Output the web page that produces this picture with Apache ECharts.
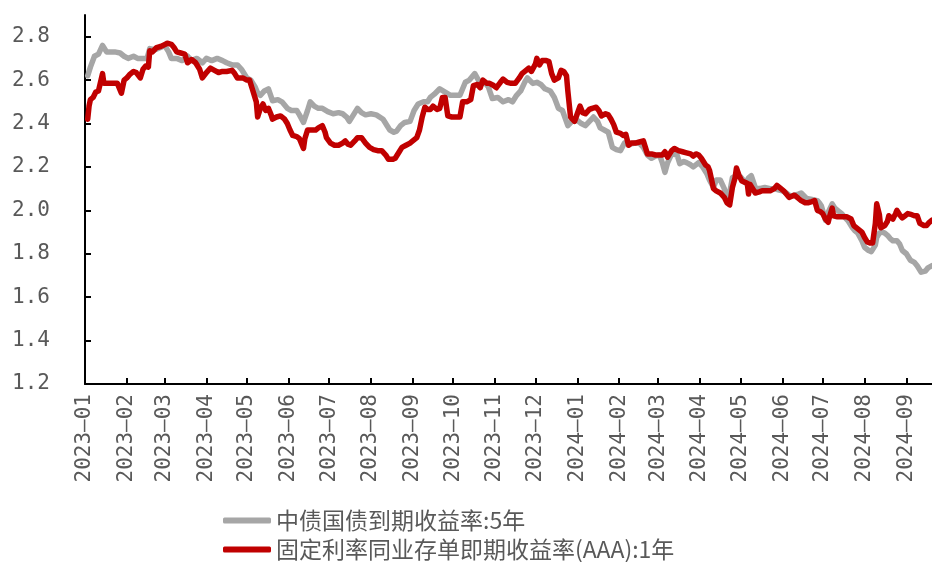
<!DOCTYPE html>
<html>
<head>
<meta charset="utf-8">
<title>国债与同业存单收益率</title>
<script src="https://cdn.jsdelivr.net/npm/echarts@6/dist/echarts.min.js"></script>
<style>
  html, body { margin: 0; padding: 0; background: #fff; }
  #chart { width: 932px; height: 562px; }
</style>
</head>
<body>
<div id="chart"></div>
<script>
// 中债国债到期收益率:5年
const grayName = '中债国债到期收益率:5年';
const grayDates = [
  '2023-01-03','2023-01-05','2023-01-08','2023-01-11','2023-01-14','2023-01-17','2023-01-20','2023-01-23','2023-01-27','2023-01-30',
  '2023-02-02','2023-02-06','2023-02-09','2023-02-13','2023-02-16','2023-02-18','2023-02-22','2023-02-26',
  '2023-03-01','2023-03-04','2023-03-06','2023-03-10','2023-03-14','2023-03-18','2023-03-21','2023-03-25','2023-03-29',
  '2023-04-01','2023-04-05','2023-04-09','2023-04-13','2023-04-16','2023-04-20','2023-04-24','2023-04-27',
  '2023-05-01','2023-05-04','2023-05-07','2023-05-09','2023-05-11','2023-05-14','2023-05-17','2023-05-20','2023-05-24','2023-05-27','2023-05-31',
  '2023-06-03','2023-06-07','2023-06-09','2023-06-12','2023-06-15','2023-06-17','2023-06-20','2023-06-23','2023-06-26','2023-06-30',
  '2023-07-04','2023-07-08','2023-07-11','2023-07-14','2023-07-16','2023-07-19','2023-07-22','2023-07-25','2023-07-28',
  '2023-08-01','2023-08-05','2023-08-10','2023-08-13','2023-08-15','2023-08-18','2023-08-20','2023-08-23','2023-08-26','2023-08-30',
  '2023-09-02','2023-09-05','2023-09-09','2023-09-12','2023-09-14','2023-09-17','2023-09-21','2023-09-25','2023-09-29',
  '2023-10-02','2023-10-06','2023-10-10','2023-10-13','2023-10-17','2023-10-21','2023-10-25','2023-10-27','2023-10-30',
  '2023-11-03','2023-11-07','2023-11-11','2023-11-14','2023-11-17','2023-11-20','2023-11-23','2023-11-25','2023-11-29',
  '2023-12-02','2023-12-05','2023-12-08','2023-12-12','2023-12-15','2023-12-18','2023-12-21','2023-12-25','2023-12-28',
  '2024-01-01','2024-01-04','2024-01-07','2024-01-10','2024-01-13','2024-01-16','2024-01-18','2024-01-21','2024-01-24','2024-01-27','2024-01-30',
  '2024-02-02','2024-02-05','2024-02-09','2024-02-13','2024-02-16','2024-02-19','2024-02-22','2024-02-25','2024-02-28',
  '2024-03-02','2024-03-04','2024-03-06','2024-03-08','2024-03-11','2024-03-15','2024-03-17','2024-03-20','2024-03-22','2024-03-25','2024-03-27','2024-03-31',
  '2024-04-03','2024-04-06','2024-04-08','2024-04-11','2024-04-13','2024-04-16','2024-04-19','2024-04-21','2024-04-23','2024-04-25','2024-04-28',
  '2024-05-01','2024-05-03','2024-05-05','2024-05-07','2024-05-09','2024-05-12','2024-05-15','2024-05-19','2024-05-23','2024-05-26','2024-05-29',
  '2024-06-01','2024-06-04','2024-06-07','2024-06-10','2024-06-13','2024-06-15','2024-06-19','2024-06-23','2024-06-27','2024-06-29','2024-06-30',
  '2024-07-03','2024-07-05','2024-07-08','2024-07-10','2024-07-12','2024-07-15','2024-07-17','2024-07-20','2024-07-23','2024-07-25','2024-07-27','2024-07-30',
  '2024-08-01','2024-08-04','2024-08-06','2024-08-09','2024-08-10','2024-08-12','2024-08-14','2024-08-16','2024-08-18','2024-08-20','2024-08-22','2024-08-25','2024-08-27','2024-08-29',
  '2024-09-01','2024-09-04','2024-09-07','2024-09-09','2024-09-12','2024-09-15','2024-09-17','2024-09-20'
];
const grayValues = [
  2.62,2.66,2.71,2.72,2.76,2.73,2.73,2.73,2.725,2.71,
  2.70,2.71,2.70,2.70,2.70,2.745,2.74,2.75,
  2.76,2.73,2.70,2.70,2.69,2.71,2.69,2.70,2.68,
  2.70,2.69,2.70,2.69,2.68,2.67,2.67,2.65,
  2.61,2.60,2.57,2.54,2.53,2.55,2.56,2.505,2.51,2.50,2.47,
  2.46,2.46,2.44,2.405,2.46,2.50,2.48,2.47,2.47,2.455,
  2.445,2.45,2.445,2.43,2.41,2.44,2.47,2.45,2.44,
  2.445,2.44,2.42,2.39,2.37,2.36,2.365,2.39,2.405,2.41,
  2.46,2.49,2.50,2.50,2.52,2.535,2.56,2.545,2.53,
  2.53,2.53,2.59,2.60,2.63,2.585,2.585,2.57,2.515,
  2.52,2.50,2.51,2.50,2.53,2.55,2.59,2.61,2.585,
  2.59,2.58,2.56,2.55,2.52,2.47,2.46,2.39,2.41,
  2.415,2.40,2.39,2.41,2.43,2.41,2.38,2.37,2.36,2.29,2.28,
  2.275,2.31,2.305,2.31,2.31,2.29,2.255,2.24,2.25,
  2.255,2.22,2.175,2.22,2.26,2.255,2.215,2.225,2.22,2.21,2.20,2.22,
  2.20,2.17,2.14,2.105,2.14,2.14,2.10,2.06,2.08,2.15,2.16,
  2.155,2.14,2.125,2.15,2.16,2.105,2.10,2.105,2.10,2.10,2.095,
  2.09,2.08,2.065,2.07,2.075,2.08,2.055,2.05,2.045,2.03,2.02,
  1.955,1.99,2.03,2.01,2.00,1.985,1.97,1.95,1.92,1.905,1.895,1.86,
  1.83,1.815,1.81,1.84,1.875,1.895,1.90,1.895,1.885,1.87,1.86,1.86,1.845,1.815,
  1.80,1.77,1.76,1.745,1.715,1.72,1.735,1.745
];

// 固定利率同业存单即期收益率(AAA):1年
const redName = '固定利率同业存单即期收益率(AAA):1年';
const redDates = [
  '2023-01-03','2023-01-04','2023-01-05','2023-01-07','2023-01-09','2023-01-11','2023-01-14','2023-01-15','2023-01-18','2023-01-22','2023-01-25','2023-01-28','2023-01-30',
  '2023-02-01','2023-02-03','2023-02-06','2023-02-08','2023-02-11','2023-02-13','2023-02-15','2023-02-17','2023-02-18','2023-02-20','2023-02-23','2023-02-26','2023-02-28',
  '2023-03-03','2023-03-06','2023-03-08','2023-03-10','2023-03-13','2023-03-16','2023-03-18','2023-03-21','2023-03-24','2023-03-27','2023-03-29',
  '2023-04-01','2023-04-04','2023-04-07','2023-04-10','2023-04-13','2023-04-16','2023-04-20','2023-04-22','2023-04-24','2023-04-28',
  '2023-05-01','2023-05-03','2023-05-05','2023-05-08','2023-05-09','2023-05-11','2023-05-13','2023-05-15','2023-05-17','2023-05-19','2023-05-20','2023-05-23','2023-05-26','2023-05-29','2023-05-31',
  '2023-06-02','2023-06-04','2023-06-07','2023-06-09','2023-06-12','2023-06-13','2023-06-15','2023-06-18','2023-06-21','2023-06-23','2023-06-26','2023-06-28','2023-06-29',
  '2023-07-02','2023-07-05','2023-07-08','2023-07-11','2023-07-13','2023-07-15','2023-07-17','2023-07-20','2023-07-22','2023-07-25','2023-07-28','2023-07-31',
  '2023-08-03','2023-08-06','2023-08-09','2023-08-12','2023-08-14','2023-08-17','2023-08-19','2023-08-22','2023-08-24','2023-08-27','2023-08-30',
  '2023-09-01','2023-09-04','2023-09-06','2023-09-08','2023-09-10','2023-09-12','2023-09-14','2023-09-16','2023-09-19','2023-09-21','2023-09-23','2023-09-25','2023-09-27','2023-09-30',
  '2023-10-03','2023-10-06','2023-10-08','2023-10-11','2023-10-14','2023-10-16','2023-10-19','2023-10-21','2023-10-23','2023-10-26','2023-10-28','2023-10-31',
  '2023-11-02','2023-11-05','2023-11-07','2023-11-10','2023-11-13','2023-11-16','2023-11-19','2023-11-21','2023-11-24','2023-11-26','2023-11-28',
  '2023-12-01','2023-12-02','2023-12-04','2023-12-06','2023-12-09','2023-12-11','2023-12-13','2023-12-15','2023-12-18','2023-12-20','2023-12-22','2023-12-24','2023-12-25','2023-12-27','2023-12-30',
  '2024-01-01','2024-01-03','2024-01-05','2024-01-07','2024-01-10','2024-01-12','2024-01-15','2024-01-17','2024-01-19','2024-01-22','2024-01-24','2024-01-26','2024-01-28','2024-01-30',
  '2024-02-02','2024-02-04','2024-02-06','2024-02-08','2024-02-10','2024-02-13','2024-02-16','2024-02-19','2024-02-20','2024-02-22','2024-02-25','2024-02-28',
  '2024-03-02','2024-03-04','2024-03-06','2024-03-08','2024-03-11','2024-03-13','2024-03-16','2024-03-19','2024-03-22','2024-03-25','2024-03-27','2024-03-29','2024-03-31',
  '2024-04-02','2024-04-05','2024-04-07','2024-04-08','2024-04-11','2024-04-13','2024-04-16','2024-04-19','2024-04-21','2024-04-23','2024-04-25','2024-04-27','2024-04-28','2024-04-30',
  '2024-05-02','2024-05-04','2024-05-06','2024-05-07','2024-05-08','2024-05-09','2024-05-12','2024-05-15','2024-05-17','2024-05-20','2024-05-23','2024-05-26','2024-05-28','2024-05-31',
  '2024-06-02','2024-06-04','2024-06-06','2024-06-08','2024-06-10','2024-06-13','2024-06-15','2024-06-18','2024-06-20','2024-06-23','2024-06-25','2024-06-27','2024-06-29',
  '2024-07-01','2024-07-03','2024-07-05','2024-07-06','2024-07-08','2024-07-09','2024-07-12','2024-07-14','2024-07-17','2024-07-19','2024-07-22','2024-07-24','2024-07-27','2024-07-30',
  '2024-08-01','2024-08-03','2024-08-05','2024-08-07','2024-08-09','2024-08-10','2024-08-12','2024-08-13','2024-08-16','2024-08-18','2024-08-19','2024-08-22','2024-08-24','2024-08-25','2024-08-27','2024-08-29','2024-08-31',
  '2024-09-02','2024-09-05','2024-09-07','2024-09-09','2024-09-11','2024-09-14','2024-09-16','2024-09-18','2024-09-20'
];
const redValues = [
  2.42,2.48,2.51,2.52,2.545,2.55,2.63,2.585,2.585,2.585,2.585,2.54,2.60,
  2.61,2.625,2.64,2.635,2.61,2.65,2.665,2.66,2.735,2.73,2.75,2.755,2.76,
  2.77,2.765,2.75,2.73,2.725,2.72,2.68,2.695,2.68,2.65,2.61,
  2.635,2.655,2.645,2.635,2.64,2.64,2.645,2.63,2.61,2.61,
  2.60,2.60,2.56,2.50,2.43,2.47,2.49,2.46,2.47,2.44,2.42,2.43,2.435,2.42,2.40,
  2.37,2.345,2.34,2.33,2.285,2.33,2.37,2.37,2.37,2.38,2.39,2.36,2.335,
  2.31,2.30,2.30,2.31,2.32,2.305,2.30,2.32,2.335,2.335,2.31,2.29,
  2.28,2.275,2.275,2.255,2.235,2.235,2.24,2.27,2.29,2.30,2.31,
  2.32,2.335,2.37,2.43,2.475,2.465,2.465,2.48,2.465,2.47,2.52,2.52,2.435,2.43,
  2.43,2.43,2.50,2.50,2.51,2.575,2.58,2.565,2.60,2.585,2.585,2.575,
  2.565,2.59,2.605,2.59,2.585,2.585,2.61,2.63,2.645,2.655,2.64,
  2.675,2.70,2.67,2.69,2.69,2.685,2.63,2.60,2.61,2.645,2.64,2.62,2.55,2.43,2.41,
  2.445,2.48,2.45,2.445,2.465,2.47,2.475,2.46,2.435,2.445,2.44,2.42,2.395,2.36,
  2.355,2.345,2.35,2.30,2.31,2.31,2.315,2.32,2.32,2.26,2.26,2.255,
  2.255,2.255,2.27,2.245,2.275,2.285,2.275,2.27,2.265,2.26,2.25,2.26,2.255,
  2.24,2.21,2.20,2.185,2.10,2.09,2.08,2.06,2.035,2.025,2.105,2.15,2.195,2.16,
  2.135,2.13,2.125,2.075,2.12,2.11,2.08,2.085,2.09,2.09,2.09,2.10,2.115,2.10,
  2.09,2.075,2.06,2.065,2.07,2.055,2.045,2.035,2.035,2.04,2.045,2.00,1.995,
  1.985,1.96,1.945,1.97,2.01,1.975,1.97,1.97,1.97,1.97,1.96,1.93,1.915,1.90,
  1.875,1.855,1.85,1.85,1.94,2.03,1.98,1.92,1.93,1.95,1.975,1.96,1.985,2.00,1.98,1.965,1.975,
  1.985,1.98,1.975,1.975,1.94,1.93,1.93,1.945,1.955
];

// Axis ticks
const monthLabels = [
  '2023-01','2023-02','2023-03','2023-04','2023-05','2023-06','2023-07','2023-08','2023-09','2023-10','2023-11','2023-12',
  '2024-01','2024-02','2024-03','2024-04','2024-05','2024-06','2024-07','2024-08','2024-09'
];
const yTicks = [1.2, 1.4, 1.6, 1.8, 2.0, 2.2, 2.4, 2.6, 2.8];
const xStart = '2023-01-01';
const xEnd = '2024-09-20';

function toTime(s) {
  const p = s.split('-').map(Number);
  return new Date(p[0], p[1] - 1, p[2] || 1).getTime();
}
const monthTicks = monthLabels.map(toTime);
const pair = (dates, vals) => dates.map((d, i) => [toTime(d), vals[i]]);

const labelColor = '#595959';
const monoFont = '"DejaVu Sans Mono", "Liberation Mono", monospace';
const grayColor = '#A6A6A6';
const redColor = '#C00000';

// One legend row per series, stacked under the axis labels
function legendRow(name, top) {
  return {
    orient: 'horizontal',
    left: 218,
    top: top,
    itemWidth: 48,
    itemHeight: 6,
    icon: 'roundRect',
    data: [name],
    textStyle: { fontSize: 23, color: labelColor, fontFamily: '"Noto Sans CJK SC", sans-serif' }
  };
}

const chart = echarts.init(document.getElementById('chart'), null, { renderer: 'canvas' });
chart.setOption({
  animation: false,
  backgroundColor: '#ffffff',
  grid: { left: 85, right: 0, top: 15, bottom: 178, containLabel: false },
  legend: [legendRow(grayName, 504), legendRow(redName, 533)],
  // Timestamps on a value axis so that ticks sit exactly on month starts
  xAxis: {
    type: 'value',
    min: toTime(xStart),
    max: toTime(xEnd),
    axisLine: { show: true, lineStyle: { color: '#000', width: 2 } },
    axisTick: { show: true, inside: true, length: 6, customValues: monthTicks, lineStyle: { color: '#000', width: 2 } },
    axisLabel: {
      customValues: monthTicks,
      rotate: 90,
      margin: 10,
      fontSize: 21,
      color: labelColor,
      fontFamily: monoFont,
      formatter: function (v) {
        const d = new Date(v);
        return d.getFullYear() + '–' + String(d.getMonth() + 1).padStart(2, '0');
      }
    },
    splitLine: { show: false }
  },
  yAxis: {
    type: 'value',
    min: 1.2,
    max: 2.9,
    axisLine: { show: true, lineStyle: { color: '#000', width: 2 } },
    axisTick: { show: true, inside: true, length: 6, customValues: yTicks, lineStyle: { color: '#000', width: 2 } },
    axisLabel: {
      customValues: yTicks,
      margin: 35,
      fontSize: 21,
      color: labelColor,
      fontFamily: monoFont,
      formatter: v => v.toFixed(1)
    },
    splitLine: { show: false }
  },
  series: [
    {
      name: grayName,
      type: 'line',
      data: pair(grayDates, grayValues),
      showSymbol: false,
      symbol: 'none',
      itemStyle: { color: grayColor },
      lineStyle: { color: grayColor, width: 5.5, cap: 'round', join: 'round' },
      z: 2
    },
    {
      name: redName,
      type: 'line',
      data: pair(redDates, redValues),
      showSymbol: false,
      symbol: 'none',
      itemStyle: { color: redColor },
      lineStyle: { color: redColor, width: 5.5, cap: 'round', join: 'round' },
      z: 3
    }
  ]
});
</script>
</body>
</html>
